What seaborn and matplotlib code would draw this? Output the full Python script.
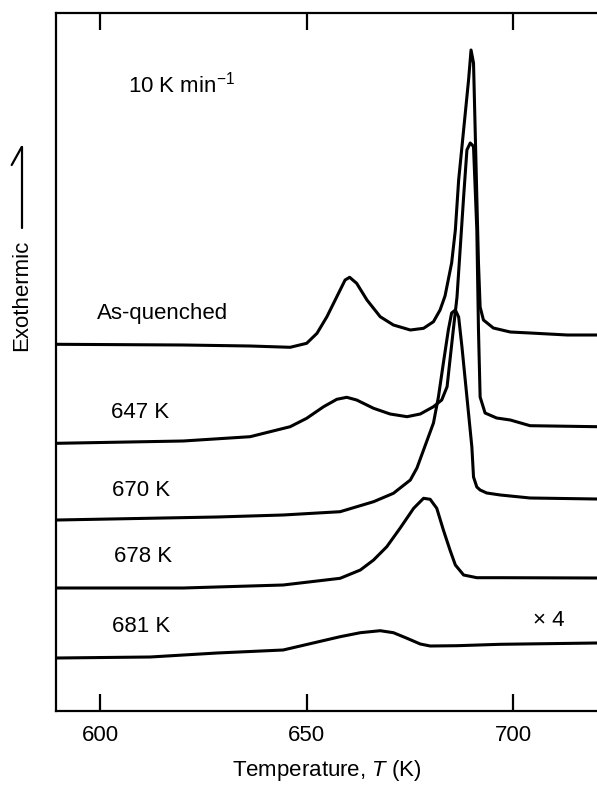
import matplotlib
matplotlib.use("Agg")
import matplotlib.pyplot as plt
from matplotlib.lines import Line2D
import pandas as pd
import seaborn as sns

# temperature (K) and relative heat flow
aq_T = [589.6, 620.1, 636.3, 646.0, 650.0, 652.5, 654.9, 657.3, 659.3, 660.4, 662.1, 664.6,
        667.8, 671.0, 675.1, 678.3, 680.7, 682.3, 683.5, 685.1, 686.0, 686.8, 688.0, 689.2,
        689.8, 690.4, 690.8, 691.2, 691.6, 692.0, 692.8, 695.2, 699.3, 704.1, 713.1, 720.3]
aq_h = [366.7, 366, 365, 363.7, 367.7, 377.7, 394.3, 414.3, 431, 433.7, 427.7, 411,
        394.3, 386, 381, 382.7, 389.3, 401, 415, 448, 481, 531, 581, 631,
        661, 648, 581, 514, 448, 404, 391, 383, 379, 378, 376, 376]

a647_T = [589.6, 620.1, 636.3, 646.0, 650.0, 654.1, 657.3, 659.7, 662.1, 666.2, 670.2, 674.3,
          677.5, 680.7, 682.7, 684.0, 684.7, 685.5, 686.4, 687.2, 688.0, 688.8, 689.6, 690.1,
          690.4, 691.2, 691.6, 692.0, 693.2, 696.0, 699.3, 704.1, 720.3]
a647_h = [267.7, 270, 274.3, 284.3, 292.7, 304.3, 311.7, 313.7, 311, 302.7, 297, 294.3,
          297, 304.3, 311, 324.3, 351, 381, 414, 464, 514, 561, 568, 566,
          564, 481, 381, 314, 298, 293, 291, 285.3, 284.3]

a670_T = [589.6, 628.3, 644.3, 658.1, 666.2, 671.0, 675.1, 676.7, 680.7, 681.9, 683.1, 684.3,
          685.1, 686.0, 686.8, 687.6, 688.8, 690.0, 690.4, 691.2, 692.0, 693.6, 696.9, 704.1,
          720.3]
a670_h = [191, 194, 196, 199.3, 209.3, 217.7, 231, 243, 288, 314, 348, 381,
          398, 401, 394, 364, 314, 264, 234, 224, 221, 218, 216, 213,
          212]

a678_T = [589.6, 620.1, 644.3, 658.1, 663.0, 666.2, 669.4, 672.6, 675.9, 678.3, 679.9, 681.5,
          683.1, 684.7, 686.0, 688.0, 691.2, 696.9, 720.3]
a678_h = [123, 123, 126, 132.7, 141, 151, 164.3, 182.7, 202.7, 212.7, 211.7, 202.7,
          181, 161, 146, 136, 133.3, 133.3, 133]

a681_T = [589.6, 612.1, 628.3, 644.3, 658.1, 663.0, 667.8, 671.0, 674.3, 677.5, 679.9, 686.4,
          696.9, 720.3]
a681_h = [53, 54, 58, 61, 74.3, 78.3, 80.3, 78.3, 72.7, 67, 65, 65.3,
          66.7, 68]

curve_names = ["As-quenched", "647 K", "670 K", "678 K", "681 K"]
xticks = [600, 650, 700]

frames = []
for name, t, h in zip(curve_names,
                      [aq_T, a647_T, a670_T, a678_T, a681_T],
                      [aq_h, a647_h, a670_h, a678_h, a681_h]):
    frames.append(pd.DataFrame({"T": t, "h": h, "curve": name}))
df = pd.concat(frames, ignore_index=True)

sns.set_style("white")
plt.rcParams["font.family"] = ["Liberation Sans", "DejaVu Sans"]
plt.rcParams["mathtext.fontset"] = "custom"
plt.rcParams["mathtext.rm"] = "Liberation Sans"
plt.rcParams["mathtext.it"] = "Liberation Sans:italic"
plt.rcParams["text.color"] = "black"
plt.rcParams["axes.labelcolor"] = "black"

fig = plt.figure(figsize=(5.97, 7.86), dpi=100)
ax = fig.add_axes([56 / 597, 75 / 786, 1 - 56 / 597, 698 / 786])

sns.lineplot(data=df, x="T", y="h", units="curve", estimator=None, color="black",
             lw=2.2, ax=ax, legend=False)

ax.set_xlim(589.3, 720.3)
ax.set_ylim(0, 698)
ax.set_xticks(xticks)
ax.set_xticklabels([str(v) for v in xticks])
ax.set_yticks([])
ax.tick_params(axis="x", direction="in", top=True, bottom=True, length=12, width=1.6,
               labelsize=16, pad=10, colors="black")
for side in ["left", "bottom", "top"]:
    ax.spines[side].set_color("black")
    ax.spines[side].set_linewidth(1.6)
ax.spines["right"].set_visible(False)

ax.set_xlabel("Temperature, $T$ (K)", fontsize=16, labelpad=9, color="black")
ax.set_ylabel("")

fs = 16
ax.text(606.8, 626, "10 K min$^{-1}$", fontsize=fs, va="center", ha="left")
ax.text(599.3, 398, "As-quenched", fontsize=fs, va="center", ha="left")
ax.text(602.7, 298, "647 K", fontsize=fs, va="center", ha="left")
ax.text(602.9, 221, "670 K", fontsize=fs, va="center", ha="left")
ax.text(603.4, 154, "678 K", fontsize=fs, va="center", ha="left")
ax.text(602.9, 84, "681 K", fontsize=fs, va="center", ha="left")
ax.text(704.8, 90, "\u00d7 4", fontsize=fs, va="center", ha="left")

# "Exothermic" label with a half-arrow pointing up
fig.text(22 / 597, (786 - 295) / 786, "Exothermic", rotation=90, fontsize=fs,
         ha="center", va="center", color="black")
fig.add_artist(Line2D([21.7 / 597, 21.7 / 597], [(786 - 228) / 786, (786 - 147) / 786],
                      transform=fig.transFigure, color="black", lw=1.6))
fig.add_artist(Line2D([21.7 / 597, 11.7 / 597], [(786 - 147) / 786, (786 - 165) / 786],
                      transform=fig.transFigure, color="black", lw=1.6))

fig.savefig("out.png", dpi=100)
